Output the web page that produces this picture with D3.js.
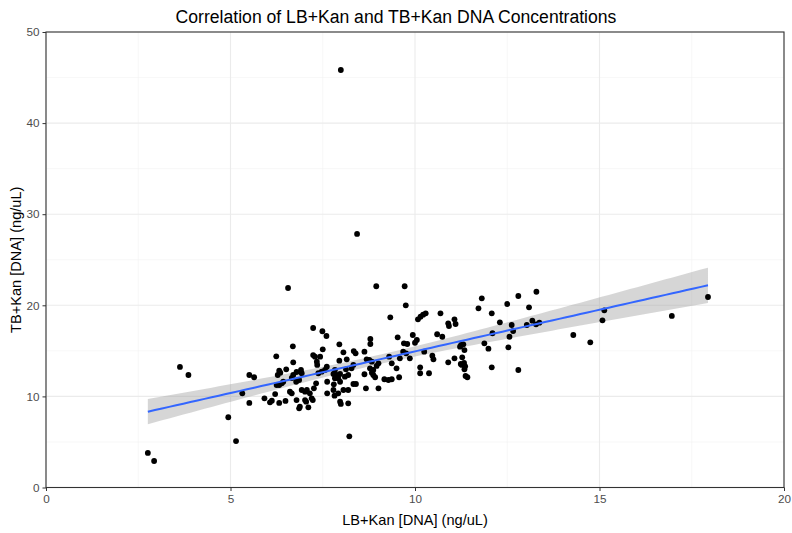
<!DOCTYPE html>
<html>
<head>
<meta charset="utf-8">
<title>Correlation of LB+Kan and TB+Kan DNA Concentrations</title>
<style>
    body { margin: 0; background: #FFFFFF; font-family: "Liberation Sans", Arial, sans-serif; }
    .tick text { fill: #4D4D4D; font-size: 11.7px; }
    .tick line { stroke: #333333; }
    .grid-major line { stroke: #EBEBEB; stroke-width: 1.1; }
    .grid-minor line { stroke: #F2F2F2; stroke-width: 0.6; }
</style>
</head>
<body>
<svg id="chart" width="792" height="533"></svg>
<script src="https://cdn.jsdelivr.net/npm/d3@7"></script>
<script>
// values
var lbKan = [
    2.76, 2.93, 3.63, 3.86, 4.94, 5.15, 5.51, 5.64, 5.32, 5.51,
    5.92, 6.07, 6.12, 6.32, 6.49, 6.24, 6.51, 6.32, 6.28, 6.35,
    6.25, 6.21, 6.32, 6.39, 6.43, 6.69, 6.70, 6.66, 6.70, 6.79,
    6.91, 6.78, 6.86, 6.93, 6.61, 6.66, 6.79, 6.86, 6.88, 6.93,
    7.02, 7.07, 7.15, 7.02, 7.05, 7.11, 7.20, 7.23, 7.26, 7.32,
    7.38, 7.47, 7.56, 7.61, 7.24, 7.29, 7.34, 7.35, 7.43, 7.24,
    7.49, 7.60, 7.50, 7.62, 7.62, 7.83, 7.88, 7.92, 7.97, 7.79,
    7.92, 7.97, 7.95, 8.06, 8.34, 8.39, 8.63, 8.79, 8.79, 8.15,
    8.22, 7.95, 7.79, 7.97, 7.83, 7.80, 8.06, 8.19, 7.82, 7.99,
    8.19, 8.13, 8.10, 8.19, 8.28, 8.33, 8.33, 8.40, 8.63, 8.67,
    8.69, 8.76, 8.83, 8.78, 8.87, 8.96, 9.01, 8.83, 8.87, 8.92,
    9.01, 9.17, 9.28, 9.37, 9.30, 9.37, 9.50, 9.57, 9.53, 9.59,
    9.70, 9.79, 9.68, 9.76, 9.86, 9.94, 10.00, 10.05, 10.14, 10.14,
    10.25, 10.38, 8.95, 9.72, 9.75, 9.33, 10.08, 10.15, 10.22, 10.29,
    7.99, 8.43, 6.56, 10.90, 11.07, 11.28, 11.36, 11.42, 11.22, 11.25,
    11.31, 11.34, 10.60, 10.74, 10.69, 10.90, 10.92, 11.07, 11.10, 11.72,
    11.81, 12.08, 11.88, 11.99, 12.08, 12.10, 12.30, 12.50, 12.53, 12.56,
    12.62, 12.66, 12.80, 12.80, 13.03, 13.09, 13.29, 13.18, 13.28, 13.37,
    10.47, 10.50, 11.24, 11.27, 11.33, 11.34, 11.37, 14.29, 14.75, 15.08,
    15.13, 16.96, 17.94
];
var tbKan = [
    3.79, 2.91, 13.24, 12.35, 7.71, 5.10, 12.35, 12.10, 10.34, 9.28,
    9.79, 9.35, 9.53, 9.28, 9.50, 14.40, 12.97, 12.82, 12.35, 12.60,
    11.25, 10.26, 11.25, 11.44, 11.61, 15.50, 13.74, 12.02, 12.35, 12.68,
    12.90, 11.61, 11.80, 12.54, 10.52, 10.34, 9.60, 8.69, 8.87, 10.70,
    10.52, 10.70, 10.34, 9.60, 9.42, 8.80, 9.79, 9.60, 10.89, 11.44,
    12.54, 12.71, 12.90, 13.26, 14.54, 14.36, 13.81, 13.45, 14.36, 17.51,
    17.15, 16.63, 15.17, 11.61, 10.34, 12.90, 12.35, 11.99, 11.61, 10.70,
    10.34, 9.42, 15.72, 14.84, 14.98, 14.73, 14.91, 16.30, 15.75, 14.07,
    5.62, 13.92, 12.46, 12.46, 11.99, 11.33, 10.70, 10.70, 10.08, 9.17,
    9.24, 12.97, 12.16, 12.35, 13.08, 13.45, 11.36, 11.36, 12.43, 10.89,
    14.07, 14.00, 13.81, 13.08, 12.90, 13.34, 13.63, 12.60, 12.35, 12.10,
    10.89, 11.88, 11.80, 11.88, 14.36, 13.63, 13.08, 12.10, 16.49, 14.18,
    15.83, 15.75, 14.91, 14.73, 14.18, 16.74, 15.89, 16.19, 13.19, 12.54,
    14.91, 12.54, 22.09, 22.09, 20.00, 18.68, 18.46, 18.75, 18.97, 19.12,
    45.83, 27.83, 21.90, 13.74, 14.18, 14.29, 13.30, 12.10, 15.46, 15.64,
    15.72, 15.09, 16.82, 16.55, 19.12, 18.02, 17.73, 18.46, 17.95, 19.67,
    20.77, 19.12, 15.83, 15.24, 13.19, 16.93, 18.13, 20.14, 15.39, 16.55,
    17.84, 17.18, 21.02, 12.90, 17.84, 19.78, 21.49, 18.31, 17.91, 18.09,
    14.47, 14.07, 13.56, 13.45, 13.67, 12.97, 12.24, 16.74, 15.94, 18.35,
    19.45, 18.83, 20.91
];
var xTicks = [0, 5, 10, 15, 20];
var yTicks = [0, 10, 20, 30, 40, 50];

var panel = {left: 46, right: 784, top: 32, bottom: 487.5};
var svg = d3.select('#chart');

var x = d3.scaleLinear().domain([0, 20]).range([panel.left, panel.right]);
var y = d3.scaleLinear().domain([0, 50]).range([panel.bottom, panel.top]);

var w = panel.right - panel.left, h = panel.bottom - panel.top;

// minor grid
svg.append('g').attr('class', 'grid-minor')
    .selectAll('line').data([2.5, 7.5, 12.5, 17.5]).enter().append('line')
    .attr('x1', function (d) { return x(d); }).attr('x2', function (d) { return x(d); })
    .attr('y1', panel.top).attr('y2', panel.bottom);
svg.append('g').attr('class', 'grid-minor')
    .selectAll('line').data([5, 15, 25, 35, 45]).enter().append('line')
    .attr('y1', function (d) { return y(d); }).attr('y2', function (d) { return y(d); })
    .attr('x1', panel.left).attr('x2', panel.right);

// major grid
svg.append('g').attr('class', 'grid-major')
    .selectAll('line').data(xTicks).enter().append('line')
    .attr('x1', function (d) { return x(d); }).attr('x2', function (d) { return x(d); })
    .attr('y1', panel.top).attr('y2', panel.bottom);
svg.append('g').attr('class', 'grid-major')
    .selectAll('line').data(yTicks).enter().append('line')
    .attr('y1', function (d) { return y(d); }).attr('y2', function (d) { return y(d); })
    .attr('x1', panel.left).attr('x2', panel.right);

// linear fit with 95% band, like geom_smooth(method = "lm")
var n = lbKan.length;
var mx = d3.mean(lbKan), my = d3.mean(tbKan);
var sxx = 0, sxy = 0;
for (var i = 0; i < n; i++) {
    sxx += (lbKan[i] - mx) * (lbKan[i] - mx);
    sxy += (lbKan[i] - mx) * (tbKan[i] - my);
}
var slope = sxy / sxx, icpt = my - slope * mx;
var sse = 0;
for (var i = 0; i < n; i++) {
    var r = tbKan[i] - (icpt + slope * lbKan[i]);
    sse += r * r;
}
var s = Math.sqrt(sse / (n - 2));
var tq = 1.972;
var xs = d3.range(80).map(function (k) {
    return d3.min(lbKan) + k * (d3.max(lbKan) - d3.min(lbKan)) / 79;
});
var fit = xs.map(function (v) {
    var f = icpt + slope * v;
    var se = s * Math.sqrt(1 / n + (v - mx) * (v - mx) / sxx);
    return {x: v, y: f, lo: f - tq * se, hi: f + tq * se};
});

svg.append('path').datum(fit)
    .attr('fill', '#999999').attr('fill-opacity', 0.4)
    .attr('d', d3.area()
        .x(function (d) { return x(d.x); })
        .y0(function (d) { return y(d.lo); })
        .y1(function (d) { return y(d.hi); }));

// points
svg.append('g').selectAll('circle').data(lbKan).enter().append('circle')
    .attr('cx', function (d) { return x(d); })
    .attr('cy', function (d, i) { return y(tbKan[i]); })
    .attr('r', 2.9)
    .attr('fill', '#000000');

svg.append('path').datum(fit)
    .attr('fill', 'none').attr('stroke', '#3366FF').attr('stroke-width', 2)
    .attr('d', d3.line()
        .x(function (d) { return x(d.x); })
        .y(function (d) { return y(d.y); }));

// panel border
svg.append('rect')
    .attr('x', panel.left).attr('y', panel.top).attr('width', w).attr('height', h)
    .attr('fill', 'none').attr('stroke', '#333333').attr('stroke-width', 1.1);

// axes
var xAxis = svg.append('g').attr('transform', 'translate(0,' + panel.bottom + ')')
    .call(d3.axisBottom(x).tickValues(xTicks).tickSize(3.5).tickPadding(4).tickFormat(d3.format('d')));
var yAxis = svg.append('g').attr('transform', 'translate(' + panel.left + ',0)')
    .call(d3.axisLeft(y).tickValues(yTicks).tickSize(3.5).tickPadding(3).tickFormat(d3.format('d')));
[xAxis, yAxis].forEach(function (a) {
    a.select('.domain').remove();
    a.selectAll('text').attr('font-family', null).attr('font-size', null);
});

// titles
svg.append('text')
    .attr('x', 396).attr('y', 23)
    .attr('text-anchor', 'middle').attr('font-size', '17.6px').attr('fill', '#000000')
    .text('Correlation of LB+Kan and TB+Kan DNA Concentrations');
svg.append('text')
    .attr('x', (panel.left + panel.right) / 2).attr('y', 525)
    .attr('text-anchor', 'middle').attr('font-size', '14.6px').attr('fill', '#000000')
    .text('LB+Kan [DNA] (ng/uL)');
svg.append('text')
    .attr('transform', 'translate(21,' + ((panel.top + panel.bottom) / 2) + ') rotate(-90)')
    .attr('text-anchor', 'middle').attr('font-size', '14.6px').attr('fill', '#000000')
    .text('TB+Kan [DNA] (ng/uL)');
</script>
</body>
</html>
